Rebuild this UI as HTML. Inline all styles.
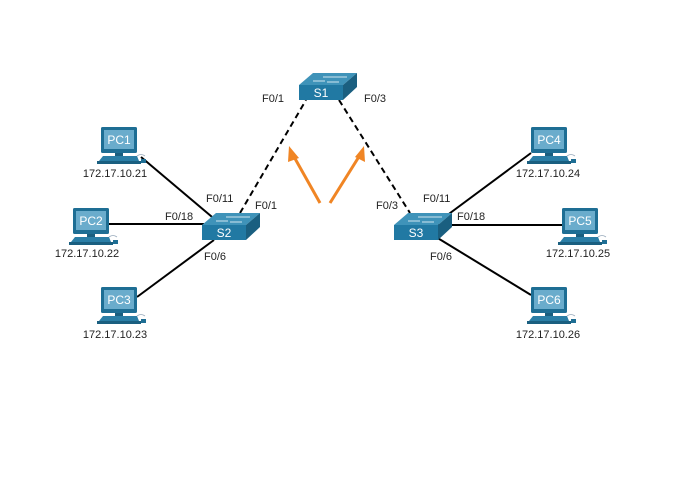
<!DOCTYPE html>
<html><head><style>
html,body{margin:0;padding:0;background:#fff;}
svg{display:block;}
text{font-family:"Liberation Sans",Arial,sans-serif;}
</style></head><body>
<svg width="680" height="490" viewBox="0 0 680 490" xmlns="http://www.w3.org/2000/svg">
<defs>
<g id="pc">
  <rect x="0" y="0" width="36" height="26" rx="1.5" fill="#1e6e94"/>
  <rect x="3" y="3" width="30" height="19" fill="#6aaccc"/>
  <rect x="14" y="26" width="8" height="3" fill="#1a5f80"/>
  <polygon points="2,29 36,29 38,34 -2,34" fill="#2a7ea6"/>
  <polygon points="-4,34 40,34 40,37 -4,37" fill="#1a5f80"/>
  <path d="M36,29 q4,-3 8,0" stroke="#9ab" stroke-width="0.8" fill="none"/>
  <rect x="40" y="32" width="5" height="4" fill="#1e6e94"/>
</g>
<g id="sw">
  <polygon points="0,12 14,0 58,0 44,12" fill="#3f93b9"/>
  <polygon points="44,12 58,0 58,14 44,27" fill="#1a5f80"/>
  <rect x="0" y="12" width="44" height="15" fill="#2179a3"/>
  <g stroke="#cfe6f0" stroke-width="1">
    <line x1="14" y1="8" x2="26" y2="8"/><line x1="24" y1="4" x2="36" y2="4"/>
    <line x1="28" y1="9" x2="40" y2="9"/><line x1="36" y1="4" x2="48" y2="4"/>
  </g>
</g>
</defs>

<g stroke="#000" stroke-width="2">
  <line x1="141" y1="157" x2="218" y2="222"/>
  <line x1="108" y1="224" x2="204" y2="224"/>
  <line x1="137" y1="297" x2="214" y2="240"/>
  <line x1="438" y1="222" x2="531" y2="153"/>
  <line x1="438" y1="225" x2="562" y2="225"/>
  <line x1="436" y1="237" x2="531" y2="295"/>
</g>
<g stroke="#000" stroke-width="2" stroke-dasharray="6,4">
  <line x1="240" y1="213" x2="306" y2="100"/>
  <line x1="339" y1="100" x2="410" y2="213"/>
</g>

<g stroke="#f08524" stroke-width="3" fill="#f08524">
  <line x1="320" y1="203" x2="293" y2="155"/>
  <line x1="330" y1="203" x2="360" y2="155"/>
</g>
<polygon points="289,146 299,158 288,162" fill="#f08524"/>
<polygon points="364,146 365,162 355,157" fill="#f08524"/>

<use href="#sw" x="299" y="73"/>
<use href="#sw" x="202" y="213"/>
<use href="#sw" x="394" y="213"/>
<g fill="#fff" font-size="12" text-anchor="middle">
  <text x="321" y="97">S1</text>
  <text x="224" y="237">S2</text>
  <text x="416" y="237">S3</text>
</g>

<use href="#pc" x="101" y="127"/>
<use href="#pc" x="73" y="208"/>
<use href="#pc" x="101" y="287"/>
<use href="#pc" x="531" y="127"/>
<use href="#pc" x="562" y="208"/>
<use href="#pc" x="531" y="287"/>
<g fill="#fff" font-size="12" text-anchor="middle">
  <text x="119" y="144">PC1</text>
  <text x="91" y="225">PC2</text>
  <text x="119" y="304">PC3</text>
  <text x="549" y="144">PC4</text>
  <text x="580" y="225">PC5</text>
  <text x="549" y="304">PC6</text>
</g>

<g fill="#222" font-size="11" text-anchor="middle">
  <text x="115" y="177">172.17.10.21</text>
  <text x="87" y="257">172.17.10.22</text>
  <text x="115" y="338">172.17.10.23</text>
  <text x="548" y="177">172.17.10.24</text>
  <text x="578" y="257">172.17.10.25</text>
  <text x="548" y="338">172.17.10.26</text>
</g>

<g fill="#222" font-size="11">
  <text x="262" y="102">F0/1</text>
  <text x="364" y="102">F0/3</text>
  <text x="206" y="202">F0/11</text>
  <text x="255" y="209">F0/1</text>
  <text x="165" y="220">F0/18</text>
  <text x="204" y="260">F0/6</text>
  <text x="376" y="209">F0/3</text>
  <text x="423" y="202">F0/11</text>
  <text x="457" y="220">F0/18</text>
  <text x="430" y="260">F0/6</text>
</g>
</svg>
</body></html>
